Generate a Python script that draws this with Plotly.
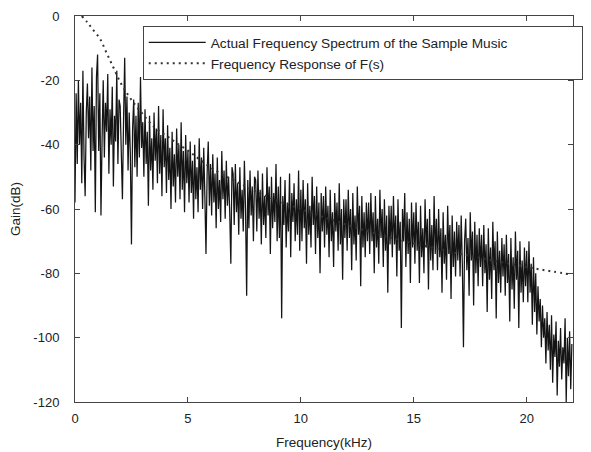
import numpy as np
import plotly.graph_objects as go

# Spectrum of the sample music: 20 samples per kHz (0.05 kHz step)
spectrum_db = [
    -58, -24, -46, -20, -40, -27, -52, -17, -44, -56, -30, -21, -38, -25, -48, -16, -42, -28, -61, -19,
    -12, -42, -24, -62, -38, -20, -44, -27, -36, -18, -49, -29, -40, -22, -53, -31, -39, -17, -46, -26,
    -28, -45, -57, -32, -13, -40, -25, -48, -30, -43, -71, -35, -26, -47, -31, -50, -27, -44, -19, -41,
    -33, -50, -29, -46, -36, -59, -31, -48, -38, -54, -30, -45, -35, -52, -28, -49, -37, -56, -29, -47,
    -38, -55, -34, -51, -41, -60, -36, -53, -43, -58, -35, -50, -40, -57, -33, -54, -42, -61, -37, -52,
    -42, -58, -39, -55, -45, -63, -40, -57, -47, -61, -38, -54, -44, -60, -41, -56, -74, -49, -39, -59,
    -46, -62, -43, -58, -49, -66, -44, -60, -51, -64, -42, -57, -48, -63, -45, -59, -50, -61, -77, -47,
    -49, -65, -46, -61, -52, -68, -47, -63, -54, -67, -45, -60, -87, -51, -66, -48, -62, -53, -70, -50,
    -51, -67, -48, -63, -54, -71, -49, -65, -56, -69, -47, -62, -53, -74, -50, -66, -55, -64, -46, -70,
    -53, -69, -50, -94, -56, -65, -51, -72, -58, -67, -49, -75, -55, -64, -52, -70, -57, -68, -48, -73,
    -54, -70, -51, -66, -57, -77, -52, -68, -59, -72, -50, -65, -56, -74, -53, -69, -58, -80, -55, -67,
    -56, -72, -53, -68, -59, -75, -54, -70, -61, -78, -55, -67, -58, -73, -52, -71, -60, -82, -57, -69,
    -57, -73, -54, -69, -60, -79, -55, -71, -62, -76, -53, -68, -59, -84, -56, -72, -61, -75, -58, -70,
    -58, -74, -55, -70, -61, -80, -56, -72, -63, -77, -54, -69, -60, -78, -57, -73, -62, -86, -59, -71,
    -59, -75, -56, -71, -62, -81, -57, -73, -64, -97, -60, -70, -55, -78, -61, -74, -63, -83, -58, -72,
    -61, -77, -58, -73, -64, -83, -59, -75, -66, -80, -57, -72, -63, -85, -60, -76, -65, -79, -56, -74,
    -63, -79, -60, -75, -66, -86, -61, -77, -68, -82, -59, -74, -65, -88, -62, -78, -67, -81, -64, -76,
    -65, -81, -62, -77, -103, -70, -63, -79, -69, -87, -61, -76, -67, -90, -64, -80, -68, -84, -66, -78,
    -68, -84, -65, -80, -71, -92, -66, -82, -72, -88, -64, -79, -70, -94, -67, -83, -73, -86, -69, -81,
    -71, -87, -68, -83, -74, -95, -69, -85, -75, -91, -67, -82, -73, -97, -70, -86, -76, -89, -72, -84,
    -73, -89, -70, -86, -77, -96, -75, -92, -80, -99, -84, -95, -88, -103, -90, -100, -94, -108, -92, -104,
    -96, -110, -93, -114, -99, -106, -95, -118, -101, -109, -97, -113, -103, -108, -94, -120, -100, -112, -98, -116,
    -102,
]
spectrum_step_khz = 0.05
spectrum_khz = np.arange(len(spectrum_db)) * spectrum_step_khz

# Frequency response of F(s)
response_khz = [0.3, 0.55, 0.8, 1.1, 1.4, 1.7, 2.0, 2.3, 2.65, 3.0, 3.5, 4.1, 4.5, 5.0, 5.5, 6.1,
                7, 8, 9, 10, 11, 12, 13, 14, 15, 16, 17, 18, 19, 20, 20.6, 21.2, 21.9]
response_db = [0, -2, -4.3, -7, -11.5, -16, -20.5, -24, -27.5, -30.5, -34.5, -37.5, -39.5, -41.8,
               -44.5, -47.5, -51, -54.5, -57.5, -60, -62.5, -64.8, -67, -69, -70.7, -72.3, -73.9,
               -75.3, -76.7, -78, -78.8, -79.5, -80.3]

x_ticks = [0, 5, 10, 15, 20]
x_ticklabels = ["0", "5", "10", "15", "20"]
y_ticks = [0, -20, -40, -60, -80, -100, -120]
y_ticklabels = ["0", "-20", "-40", "-60", "-80", "-100", "-120"]

FAMILY = "Liberation Sans, Arial, Helvetica, sans-serif"
tick_font = dict(family=FAMILY, size=13, color="#222")
title_font = dict(family=FAMILY, size=13.5, color="#222")
legend_font = dict(family=FAMILY, size=13.7, color="#222")

# trailing no-break spaces widen the legend box like the original (wider than its text)
pad = "\u00a0" * 18

fig = go.Figure()
fig.add_trace(go.Scatter(
    x=spectrum_khz, y=spectrum_db, mode="lines",
    name="Actual Frequency Spectrum of the Sample Music" + pad,
    line=dict(color="#141414", width=1.25),
))
fig.add_trace(go.Scatter(
    x=response_khz, y=response_db, mode="lines", line_shape="spline",
    name="Frequency Response of F(s)",
    line=dict(color="#333", width=2, dash="2px,4px"),
))

axis_common = dict(
    showline=True, mirror="ticks", linecolor="#444", linewidth=1,
    ticks="inside", ticklen=5, tickcolor="#444", showgrid=False, zeroline=False,
    tickfont=tick_font, automargin=False,
)
fig.update_xaxes(range=[0, 22.05], tickvals=x_ticks, ticktext=x_ticklabels,
                 ticklabelstandoff=4,
                 title=dict(text="Frequency(kHz)", font=title_font, standoff=12), **axis_common)
fig.update_yaxes(range=[-120, 0], tickvals=y_ticks, ticktext=y_ticklabels,
                 ticklabelstandoff=12,
                 title=dict(text="Gain(dB)", font=title_font, standoff=10), **axis_common)

# the page body has an 8px margin, so the figure is sized to end at the window edge;
# the top margin leaves room for the "0" tick label
fig.update_layout(
    width=583, height=444,
    margin=dict(l=67, r=18, t=8, b=50, autoexpand=False),
    paper_bgcolor="white", plot_bgcolor="white",
    font=tick_font,
    showlegend=True,
    legend=dict(
        x=0.136, y=0.974, xanchor="left", yanchor="top",
        bgcolor="white", bordercolor="#444", borderwidth=1,
        font=legend_font, itemwidth=57, tracegroupgap=0,
    ),
)

fig.write_html("out.html")
